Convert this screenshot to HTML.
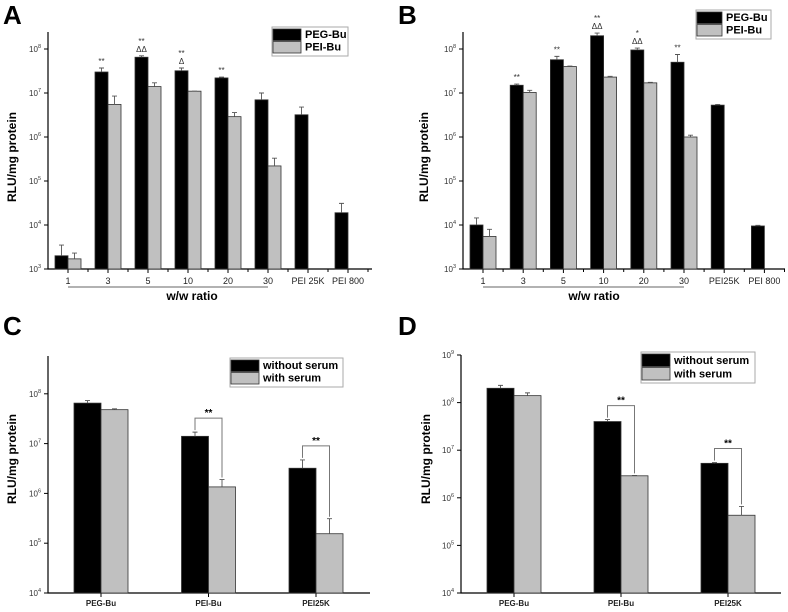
<!DOCTYPE html>
<html><head><meta charset="utf-8"><style>
html,body{margin:0;padding:0;background:#fff}
svg{display:block;font-family:"Liberation Sans",Arial,sans-serif}
</style></head><body>
<svg id="fig" width="788" height="612" viewBox="0 0 788 612" xmlns="http://www.w3.org/2000/svg"></svg>
<script>
// Panel A data
const catsA = ["1","3","5","10","20","30","PEI 25K","PEI 800"];
const pegA = [2e3,3e7,6.5e7,3.2e7,2.2e7,7e6,3.2e6,1.9e4];
const pegErrA = [3.5e3,3.7e7,7e7,3.7e7,2.3e7,1e7,4.8e6,3.1e4];
const peiA = [1.7e3,5.5e6,1.4e7,1.1e7,2.9e6,2.2e5,null,null];
const peiErrA = [2.3e3,8.5e6,1.7e7,1.1e7,3.6e6,3.3e5,null,null];
const starsA = ["","**","**","**","**","","",""];
const deltaA = ["","","ΔΔ","Δ","","","",""];
// Panel B data
const catsB = ["1","3","5","10","20","30","PEI25K","PEI 800"];
const pegB = [1e4,1.5e7,5.7e7,2e8,9.5e7,5e7,5.3e6,9.5e3];
const pegErrB = [1.45e4,1.6e7,6.8e7,2.3e8,1.05e8,7.5e7,5.5e6,9.8e3];
const peiB = [5.5e3,1.03e7,4e7,2.3e7,1.7e7,1e6,null,null];
const peiErrB = [8e3,1.15e7,4.1e7,2.4e7,1.75e7,1.1e6,null,null];
const starsB = ["","**","**","**","*","**","",""];
const deltaB = ["","","","ΔΔ","ΔΔ","","",""];
// Panel C data
const catsC = ["PEG-Bu","PEI-Bu","PEI25K"];
const woC = [6.5e7,1.4e7,3.2e6];
const woErrC = [7.3e7,1.7e7,4.7e6];
const wC = [4.8e7,1.35e6,1.55e5];
const wErrC = [5e7,1.9e6,3.1e5];
// Panel D data
const catsD = ["PEG-Bu","PEI-Bu","PEI25K"];
const woD = [2e8,4e7,5.3e6];
const woErrD = [2.3e8,4.4e7,5.5e6];
const wD = [1.4e8,2.9e6,4.3e5];
const wErrD = [1.6e8,2.95e6,6.6e5];

const NS="http://www.w3.org/2000/svg";
const svg=document.getElementById('fig');
function mk(tag,attrs,parent){const e=document.createElementNS(NS,tag);for(const k in attrs)e.setAttribute(k,attrs[k]);(parent||svg).appendChild(e);return e;}
function txt(s,x,y,size,weight,anchor,parent,fill){const t=mk('text',{x:x,y:y,'font-size':size,'font-weight':weight||'normal','text-anchor':anchor||'middle',fill:fill||'#000'},parent);t.textContent=s;return t;}

function panel(cfg){
  const g=mk('g',{});
  
  
  const yOf=v=>cfg.y0-(Math.log10(v)-cfg.minExp)*cfg.dec;
  const xOf=i=>cfg.x1+i*cfg.step;
  const L=txt(cfg.letter,cfg.lx,cfg.ly,26,'bold','start',g);
  
  
  const ax=mk('path',{d:`M${cfg.ax},${cfg.top}V${cfg.y0}H${cfg.right}`,stroke:'#000','stroke-width':1.2,fill:'none'},g);
  
  
  for(let e=cfg.minExp;e<=cfg.maxExp;e++){
    const y=yOf(Math.pow(10,e));
    mk('line',{x1:cfg.ax-4,x2:cfg.ax,y1:y,y2:y,stroke:'#000','stroke-width':1},g);
    const t=mk('text',{x:cfg.ax-7,y:y+3,'font-size':8,'text-anchor':'end',fill:'#333'},g);
    
    
    t.appendChild(document.createTextNode('10'));
    const s=mk('tspan',{dy:-4,'font-size':5.5},t);s.textContent=String(e);
  }
  const yt=txt('RLU/mg protein',0,0,12,'bold','middle',g);
  yt.setAttribute('transform',`translate(${cfg.ytx},${cfg.yty}) rotate(-90)`);
  
  
  const n=cfg.cats.length;
  for(let i=0;i<n;i++){
    const cx=xOf(i);
    mk('line',{x1:cx,x2:cx,y1:cfg.y0,y2:cfg.y0+4,stroke:'#000'},g);
    if(cfg.minor) mk('line',{x1:cx+cfg.step/2,x2:cx+cfg.step/2,y1:cfg.y0,y2:cfg.y0+3,stroke:'#000'},g);
    const tl=txt(cfg.cats[i],cx,cfg.y0+cfg.tly,cfg.tfs,cfg.tfw,'middle',g,'#222');
    
    
    const series=[[cfg.s1,cfg.e1,'#000',cx-cfg.bw],[cfg.s2,cfg.e2,'#c0c0c0',cx]];
    series.forEach((s,k)=>{
      const v=s[0][i]; if(v==null) return;
      const y=yOf(v);
      const r=mk('rect',{x:s[3],y:y,width:cfg.bw,height:cfg.y0-y,fill:s[2],stroke:'#333','stroke-width':0.8},g);
      
      
      const ey=yOf(s[1][i]);const bx=s[3]+cfg.bw/2;
      mk('path',{d:`M${bx},${y}V${ey}M${bx-2.5},${ey}H${bx+2.5}`,stroke:'#555','stroke-width':0.9,fill:'none'},g);
    });
    if(cfg.stars){
      const topv=cfg.e1[i];const by=yOf(topv);
      if(cfg.deltas[i]){const d=txt(cfg.deltas[i],cx-cfg.bw/2,by-4,8,'normal','middle',g,'#333');
        }
      if(cfg.stars[i]){const s=txt(cfg.stars[i],cx-cfg.bw/2,by-(cfg.deltas[i]?12:4),8,'normal','middle',g,'#333');
        }
    }
  }
  if(cfg.brackets){
    cfg.brackets.forEach(i=>{
      const cx=xOf(i);const xl=cx-cfg.bw/2, xr=cx+cfg.bw/2;
      const yl=yOf(cfg.e1[i])-2, yr=yOf(cfg.e2[i])-2;
      const yt2=Math.min(yl,yr)-cfg.bh;
      const b=mk('path',{d:`M${xl},${yl}V${yt2}H${xr}V${yr}`,stroke:'#777','stroke-width':1,fill:'none'},g);
      
      
      const s=txt('**',cx,yt2-2,10,'bold','middle',g);
      
      
    });
  }
  if(cfg.xtitle){
    mk('line',{x1:xOf(0),x2:xOf(5),y1:cfg.y0+18,y2:cfg.y0+18,stroke:'#666'},g);
    const xt=txt(cfg.xtitle,cfg.xtx,cfg.y0+31,12,'bold','middle',g);
    
    
  }
  const lg=mk('g',{},g);
  
  
  const [lx,ly,lw,lh]=cfg.leg;
  mk('rect',{x:lx,y:ly,width:lw,height:lh,fill:'#fff',stroke:'#aaa'},lg);
  const rh=(lh-4)/2;
  cfg.legNames.forEach((nm,k)=>{
    const yy=ly+2+k*rh;
    mk('rect',{x:lx+1,y:yy,width:cfg.sw,height:rh-1,fill:k?'#c0c0c0':'#000',stroke:'#333','stroke-width':0.8},lg);
    const t=txt(nm,lx+cfg.sw+5,yy+rh-3.5,cfg.lfs,'bold','start',lg);
    
    
  });
}

panel({name:'panel-a',letter:'A',lx:3,ly:24,ax:48,top:32,y0:269,right:372,minExp:3,maxExp:8,dec:44,
  x1:68,step:40,bw:13,cats:catsA,s1:pegA,e1:pegErrA,s2:peiA,e2:peiErrA,stars:starsA,deltas:deltaA,
  tly:15,tfs:9,tfw:'normal',minor:true,ytx:16,yty:157,xtitle:'w/w ratio',xtx:192,
  leg:[272,27,76,29],legNames:['PEG-Bu','PEI-Bu'],sw:28,lfs:11});
panel({name:'panel-b',letter:'B',lx:398,ly:24,ax:463,top:32,y0:269,right:785,minExp:3,maxExp:8,dec:44,
  x1:483,step:40.2,bw:13,cats:catsB,s1:pegB,e1:pegErrB,s2:peiB,e2:peiErrB,stars:starsB,deltas:deltaB,
  tly:15,tfs:9,tfw:'normal',minor:true,ytx:428,yty:157,xtitle:'w/w ratio',xtx:594,
  leg:[696,10,75,29],legNames:['PEG-Bu','PEI-Bu'],sw:25,lfs:11});
panel({name:'panel-c',letter:'C',lx:3,ly:335,ax:48,top:356,y0:593,right:370,minExp:4,maxExp:8,dec:49.8,
  x1:101,step:107.5,bw:27,cats:catsC,s1:woC,e1:woErrC,s2:wC,e2:wErrC,brackets:[1,2],bh:12,
  tly:13,tfs:8,tfw:'bold',minor:false,ytx:16,yty:459,
  leg:[230,358,113,29],legNames:['without serum','with serum'],sw:28,lfs:11});
panel({name:'panel-d',letter:'D',lx:398,ly:335,ax:461,top:355,y0:593,right:781,minExp:4,maxExp:9,dec:47.6,
  x1:514,step:107,bw:27,cats:catsD,s1:woD,e1:woErrD,s2:wD,e2:wErrD,brackets:[1,2],bh:12,
  tly:13,tfs:8,tfw:'bold',minor:false,ytx:430,yty:459,
  leg:[641,352,114,31],legNames:['without serum','with serum'],sw:28,lfs:11});
</script>
</body></html>
